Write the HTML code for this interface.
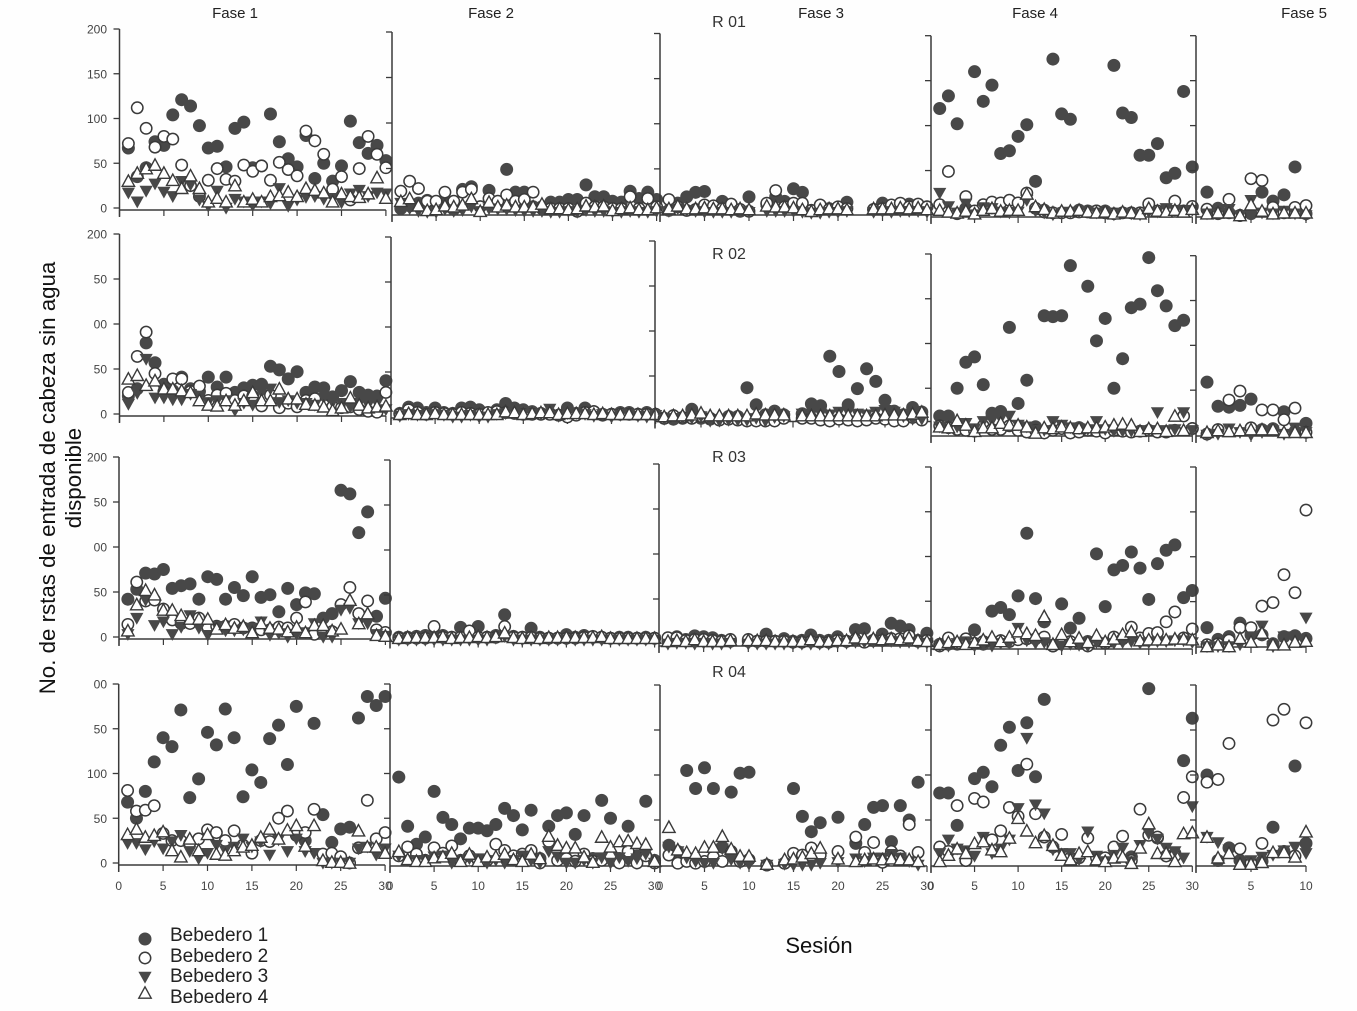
<!DOCTYPE html>
<html lang="es">
<head>
<meta charset="utf-8">
<title>Respuestas de entrada de cabeza por sesión</title>
<style>
html,body{margin:0;padding:0;background:#fff;}
svg{display:block;font-family:"Liberation Sans",sans-serif;}
</style>
</head>
<body>
<svg id="chart" xmlns="http://www.w3.org/2000/svg" width="1357" height="1011" viewBox="0 0 1357 1011">
  <rect x="0" y="0" width="1357" height="1011" fill="#fefefe"/>
  <g id="plots"></g>
  <g font-size="15" fill="#222" text-anchor="middle">
    <text x="235" y="18">Fase 1</text>
    <text x="491" y="18">Fase 2</text>
    <text x="821" y="18">Fase 3</text>
    <text x="1035" y="18">Fase 4</text>
    <text x="1304" y="18">Fase 5</text>
  </g>
  <g font-size="16" fill="#333" text-anchor="middle">
    <text x="729" y="27">R 01</text>
    <text x="729" y="259">R 02</text>
    <text x="729" y="462">R 03</text>
    <text x="729" y="677">R 04</text>
  </g>
  <text transform="translate(55,478) rotate(-90)" font-size="22.3" fill="#111" text-anchor="middle">No. de rstas de entrada de cabeza sin agua</text>
  <text transform="translate(81,478) rotate(-90)" font-size="22.3" fill="#111" text-anchor="middle">disponible</text>
  <text x="819" y="953" font-size="22" fill="#111" text-anchor="middle">Sesión</text>
  <g id="legend" font-size="19" fill="#222">
    <text x="170" y="941">Bebedero 1</text>
    <text x="170" y="962">Bebedero 2</text>
    <text x="170" y="982">Bebedero 3</text>
    <text x="170" y="1003">Bebedero 4</text>
  </g>
</svg>
<script>
/* Y axis */
const yTickValues = [0, 50, 100, 150, 200];
const yTickLabelsR1 = ["0", "50", "100", "150", "200"];
const yTickLabelsR2 = ["0", "50", "00", "50", "200"];
const yTickLabelsR3 = ["0", "50", "00", "50", "200"];
const yTickLabelsR4 = ["0", "50", "100", "50", "00"];
/* X axis */
const xTicksLong = [0, 5, 10, 15, 20, 25, 30];
const xTicksShort = [0, 5, 10];
const xLabelsLong = ["0", "5", "10", "15", "20", "25", "30"];
const xLabelsShort = ["", "5", "10"];

/* R 01 */
const r1f1b1 = [67,35,45,74,70,104,121,114,92,67,69,46,89,96,45,47,105,74,55,46,81,33,50,30,47,97,73,61,70,53];
const r1f1b2 = [72,112,89,68,80,77,48,25,13,31,44,32,30,48,41,47,31,51,43,36,86,75,60,21,35,9,44,80,60,45];
const r1f1b3 = [17,7,19,27,18,13,30,26,9,2,19,0,10,7,3,7,5,22,2,9,12,13,10,11,6,16,20,13,17,16];
const r1f1b4 = [30,39,44,48,39,31,22,36,22,7,11,7,25,7,10,7,13,14,18,13,22,20,17,7,16,13,12,16,34,11];
const r1f2b1 = [6,9,12,15,8,12,5,27,30,8,26,10,49,24,24,8,8,13,13,16,16,32,19,19,14,13,25,17,24,16];
const r1f2b2 = [25,36,28,14,14,24,14,24,27,8,17,14,21,14,16,24,6,6,6,6,3,12,8,8,6,6,19,6,17,8];
const r1f2b3 = [12,6,3,2,2,5,3,4,8,3,6,5,5,4,3,3,3,2,2,3,2,4,3,3,2,2,3,2,2,3];
const r1f2b4 = [14,17,9,4,5,9,8,10,17,3,13,8,10,8,8,8,11,6,6,5,6,9,8,9,4,6,7,5,5,7];
const r1f3b1 = [4,12,19,24,25,6,14,5,3,19,null,11,19,14,28,24,4,6,6,7,13,null,null,5,12,5,8,11,10,8];
const r1f3b2 = [16,8,4,5,10,9,6,11,5,3,null,12,26,8,12,12,4,10,5,8,6,null,null,5,6,10,12,8,11,8];
const r1f3b3 = [3,6,4,3,2,2,2,2,3,2,null,3,3,3,3,2,1,1,2,2,3,null,null,2,3,2,3,3,3,2];
const r1f3b4 = [6,9,6,6,7,6,6,5,6,5,null,9,8,8,7,5,3,5,6,6,5,null,null,6,6,6,7,6,7,5];
const r1f4b1 = [119,133,102,8,160,127,145,69,72,88,101,38,6,174,113,107,6,5,5,5,167,114,109,67,67,80,42,47,138,54];
const r1f4b2 = [12,49,2,21,5,12,15,14,17,14,25,8,4,3,3,3,4,4,5,3,2,3,3,3,13,5,5,16,5,10];
const r1f4b3 = [25,10,3,13,1,9,8,4,3,4,17,5,3,1,3,4,4,5,3,3,1,3,2,1,4,4,8,6,5,6];
const r1f4b4 = [6,4,3,5,2,6,8,5,6,6,24,10,7,3,5,5,6,4,3,4,2,4,3,2,8,5,4,6,4,7];
const r1f5b1 = [26,8,3,0,2,26,16,23,54,2];
const r1f5b2 = [7,2,18,0,41,39,9,3,9,11];
const r1f5b3 = [2,2,7,0,17,3,2,5,2,0];
const r1f5b4 = [2,3,3,0,12,5,2,3,3,3];

/* R 02 */
const r2f1b1 = [20,28,79,57,33,26,41,28,25,41,30,41,24,29,32,33,53,49,39,47,24,30,29,19,26,36,24,21,20,37];
const r2f1b2 = [24,64,91,45,25,39,39,25,31,15,21,23,15,20,20,9,21,7,12,8,15,17,10,8,7,8,5,3,2,24];
const r2f1b3 = [11,23,61,18,18,16,16,22,20,13,15,15,4,12,10,24,28,13,15,12,12,10,18,13,12,8,12,10,12,5];
const r2f1b4 = [39,43,32,37,28,28,26,24,15,10,9,15,10,15,24,15,15,28,17,17,11,10,8,4,7,18,10,7,8,9];
const r2f2b1 = [4,11,10,5,10,5,4,10,11,8,4,8,15,10,8,6,4,4,2,10,4,10,6,2,3,5,5,3,5,3];
const r2f2b2 = [3,8,5,3,5,4,3,5,4,3,5,6,5,4,3,3,3,3,2,0,2,5,6,3,3,3,3,3,3,3];
const r2f2b3 = [1,3,2,2,3,2,0,0,2,0,0,3,4,5,3,3,3,9,1,4,4,3,1,3,0,2,3,1,0,2];
const r2f2b4 = [3,4,3,3,4,3,3,3,3,3,3,3,6,5,3,4,5,5,3,4,4,4,3,4,3,3,3,3,3,3];
const r2f3b1 = [3,2,3,13,3,2,2,5,5,37,18,7,11,7,null,8,19,17,72,55,18,36,58,44,23,11,7,15,10,null];
const r2f3b2 = [3,6,4,3,5,3,1,2,1,0,0,0,0,3,null,3,3,1,0,2,1,0,1,3,2,0,0,4,1,null];
const r2f3b3 = [2,3,3,3,5,0,0,1,1,1,3,0,4,5,null,8,8,8,7,10,10,8,7,10,12,10,5,2,2,null];
const r2f3b4 = [5,6,6,7,9,6,6,6,6,6,8,7,7,7,null,6,6,6,6,6,6,6,6,6,7,7,7,8,10,null];
const r2f4b1 = [19,19,50,79,85,54,22,24,118,33,59,7,131,130,131,187,6,164,103,128,50,83,140,144,196,159,142,120,126,5];
const r2f4b2 = [8,6,4,3,2,8,4,4,8,3,1,3,0,3,5,0,1,3,2,0,3,2,1,2,3,1,1,3,19,5];
const r2f4b3 = [7,5,7,11,5,13,14,16,19,9,7,3,3,13,9,6,5,4,13,4,2,2,2,2,3,23,3,4,23,3];
const r2f4b4 = [7,6,14,9,2,6,6,11,9,9,7,0,6,5,7,6,5,6,6,7,9,10,9,2,5,5,2,19,3,null];
const r2f5b1 = [59,32,31,33,40,6,7,26,4,13];
const r2f5b2 = [1,6,39,49,8,28,28,17,30,3];
const r2f5b3 = [0,1,7,3,0,3,5,1,8,3];
const r2f5b4 = [3,5,4,5,6,6,6,3,3,3];

/* R 03 */
const r3f1b1 = [42,53,71,70,75,54,57,59,42,67,64,42,55,46,67,44,47,28,54,36,49,48,21,26,163,159,116,139,23,43];
const r3f1b2 = [14,61,40,41,31,19,15,15,21,11,12,12,14,10,10,8,8,11,10,21,39,3,5,6,36,55,26,40,8,5];
const r3f1b3 = [3,21,41,13,17,3,11,24,10,2,12,7,7,8,10,17,2,4,0,3,5,15,0,0,30,32,15,15,3,1];
const r3f1b4 = [7,36,52,47,30,30,24,20,20,20,9,14,10,12,5,15,10,9,6,11,5,13,13,7,9,41,15,26,2,1];
const r3f2b1 = [3,3,4,5,4,5,3,14,8,15,3,5,28,4,3,13,3,2,2,6,3,5,3,3,2,3,3,2,3,2];
const r3f2b2 = [2,2,2,2,15,3,3,3,10,3,3,3,15,3,3,3,2,2,2,2,2,3,4,3,2,2,2,2,2,2];
const r3f2b3 = [0,0,0,0,0,0,0,0,0,0,0,2,4,0,0,0,0,0,0,0,0,0,0,0,0,0,0,0,0,0];
const r3f2b4 = [2,3,3,3,3,4,2,3,3,4,3,4,8,3,2,3,2,3,3,3,3,3,3,4,2,2,2,2,2,2];
const r3f3b1 = [3,8,5,9,8,7,4,3,null,3,3,11,3,6,3,4,10,4,4,8,3,16,17,4,11,23,20,16,4,12];
const r3f3b2 = [7,7,4,5,5,4,3,5,null,5,3,3,3,3,2,2,3,2,2,4,3,5,2,4,4,6,6,9,3,4];
const r3f3b3 = [0,1,1,0,1,0,0,1,null,0,0,0,0,0,0,0,0,0,0,1,1,2,2,2,2,3,2,2,1,1];
const r3f3b4 = [3,4,3,5,3,3,3,4,null,4,4,4,3,3,3,3,5,3,3,4,4,7,6,6,5,6,5,7,4,3];
const r3f4b1 = [2,2,2,6,18,2,39,43,35,56,126,53,27,0,47,20,31,5,103,44,85,90,105,87,52,92,107,113,54,62];
const r3f4b2 = [0,9,3,8,3,5,5,6,5,7,8,8,10,0,6,5,3,0,6,3,10,8,21,9,14,15,27,38,9,19];
const r3f4b3 = [0,0,3,5,0,2,0,3,3,20,6,3,4,2,0,2,1,0,4,2,3,4,5,3,4,5,5,6,6,4];
const r3f4b4 = [2,4,5,2,4,7,10,5,10,16,14,12,33,2,13,5,9,4,12,5,8,13,16,6,7,7,7,8,8,7];
const r3f5b1 = [21,8,11,26,13,13,3,11,12,9];
const r3f5b2 = [2,3,7,21,21,45,49,80,60,152];
const r3f5b3 = [0,0,0,2,11,23,0,11,9,32];
const r3f5b4 = [0,2,0,9,5,15,2,2,5,6];

/* R 04 */
const r4f1b1 = [68,50,80,113,140,130,171,73,94,146,132,172,140,74,104,90,139,154,110,175,25,156,54,23,38,40,162,186,176,186];
const r4f1b2 = [81,58,59,64,33,25,25,22,27,37,34,25,36,20,11,25,24,50,58,31,34,60,10,11,7,0,17,70,27,34];
const r4f1b3 = [22,22,15,24,16,24,31,13,5,11,20,14,18,27,18,24,9,26,13,27,13,11,0,0,0,0,16,18,9,16];
const r4f1b4 = [32,38,29,31,35,14,7,27,14,32,10,9,14,18,20,29,38,27,37,42,19,42,3,1,1,0,36,18,18,11];
const r4f2b1 = [96,41,21,29,80,51,43,27,39,39,36,43,61,53,37,59,5,41,53,56,32,53,5,70,50,5,41,8,69,3];
const r4f2b2 = [8,18,10,3,17,11,19,3,8,3,3,21,14,8,10,14,0,24,3,5,2,10,2,3,9,0,13,0,8,0];
const r4f2b3 = [8,3,3,3,7,8,0,3,5,5,0,3,0,3,8,3,0,13,7,0,0,3,0,6,0,6,2,5,10,0];
const r4f2b4 = [13,4,2,2,6,7,11,2,10,2,7,7,10,4,2,10,5,30,20,17,17,7,1,29,18,24,25,22,21,2];
const r4f3b1 = [22,15,105,85,108,85,20,81,102,103,null,0,null,2,85,54,37,47,null,53,null,24,45,64,66,26,66,50,92,null];
const r4f3b2 = [11,2,4,2,4,9,4,15,4,6,null,0,null,2,13,11,19,11,null,15,null,31,14,25,3,15,10,45,14,null];
const r4f3b3 = [20,15,8,4,2,2,18,6,2,1,null,0,null,1,0,0,0,2,null,3,null,7,4,8,8,12,8,4,0,null];
const r4f3b4 = [42,17,14,13,20,20,32,18,10,10,null,1,null,6,7,9,13,19,null,7,null,4,6,7,6,7,6,6,4,null];
const r4f4b1 = [80,80,44,5,96,103,87,133,153,105,158,98,184,null,null,null,null,null,null,null,null,null,9,null,196,30,null,13,116,163];
const r4f4b2 = [20,15,66,5,74,70,28,38,64,54,112,57,31,20,34,8,8,30,8,8,20,32,5,62,33,31,10,10,75,98];
const r4f4b3 = [13,28,18,16,10,31,13,18,28,63,141,67,57,17,13,13,6,37,10,4,11,19,4,22,35,29,19,15,8,65];
const r4f4b4 = [4,11,18,13,24,26,17,15,30,52,38,25,33,22,11,6,13,15,6,4,8,9,2,19,46,13,13,4,35,36];
const r4f5b1 = [100,5,19,5,2,4,42,15,110,24];
const r4f5b2 = [92,95,135,18,2,24,161,173,10,158];
const r4f5b3 = [31,25,17,3,5,9,11,16,20,13];
const r4f5b4 = [31,8,13,1,1,3,14,14,9,37];

const seriesNames = ["bebedero-1", "bebedero-2", "bebedero-3", "bebedero-4"];

const svgNS = "http://www.w3.org/2000/svg";
const INK = "#3a3a3a";
const FILL = "#484848";

function make(tag, attrs, parent) {
  const el = document.createElementNS(svgNS, tag);
  for (const k in attrs) el.setAttribute(k, attrs[k]);
  parent.appendChild(el);
  return el;
}

/* Marker renderers: each centred on cx,cy */
function drawMarker(kind, cx, cy, parent) {
  let el;
  if (kind === 0) {
    el = make("circle", {cx: cx, cy: cy, r: 6.5, fill: FILL, stroke: "none"}, parent);
  } else if (kind === 1) {
    el = make("circle", {cx: cx, cy: cy, r: 5.7, fill: "#fff", stroke: INK, "stroke-width": 1.5}, parent);
  } else if (kind === 2) {
    const pts = [cx - 6.6, cy - 5.2, cx + 6.6, cy - 5.2, cx, cy + 6.6].join(",");
    el = make("polygon", {points: pts, fill: FILL, stroke: "none"}, parent);
  } else {
    const pts = [cx - 6.2, cy + 5.2, cx + 6.2, cy + 5.2, cx, cy - 6.2].join(",");
    el = make("polygon", {points: pts, fill: "#fff", stroke: INK, "stroke-width": 1.4}, parent);
  }
  return el;
}

function sx(p, session) { return p.x0 + session * p.xs; }
function sy(p, value) { return p.y0 - value * (p.y0 - p.yTop) / 200; }

const panels = [
  {r:1,f:1,x0:119.5,xs:8.88,yTop:29,y0:208,line:210,yLabels:yTickLabelsR1,series:[r1f1b1,r1f1b2,r1f1b3,r1f1b4]},
  {r:1,f:2,x0:392,xs:8.82,yTop:32,y0:214,line:215,series:[r1f2b1,r1f2b2,r1f2b3,r1f2b4]},
  {r:1,f:3,x0:660,xs:8.9,yTop:33.5,y0:214,line:215,series:[r1f3b1,r1f3b2,r1f3b3,r1f3b4]},
  {r:1,f:4,x0:931,xs:8.71,yTop:35.7,y0:215.5,line:217,series:[r1f4b1,r1f4b2,r1f4b3,r1f4b4]},
  {r:1,f:5,x0:1196,xs:11,yTop:35.7,y0:215.5,line:217,series:[r1f5b1,r1f5b2,r1f5b3,r1f5b4]},
  {r:2,f:1,x0:119.5,xs:8.88,yTop:234,y0:414,line:416,yLabels:yTickLabelsR2,series:[r2f1b1,r2f1b2,r2f1b3,r2f1b4]},
  {r:2,f:2,x0:391,xs:8.82,yTop:237,y0:417,line:418,series:[r2f2b1,r2f2b2,r2f2b3,r2f2b4]},
  {r:2,f:3,x0:655,xs:9.2,yTop:241,y0:421,line:421.5,series:[r2f3b1,r2f3b2,r2f3b3,r2f3b4]},
  {r:2,f:4,x0:931,xs:8.71,yTop:254,y0:433,line:436,series:[r2f4b1,r2f4b2,r2f4b3,r2f4b4]},
  {r:2,f:5,x0:1196,xs:11,yTop:255.7,y0:435,line:436,series:[r2f5b1,r2f5b2,r2f5b3,r2f5b4]},
  {r:3,f:1,x0:119,xs:8.88,yTop:457,y0:637,line:639,yLabels:yTickLabelsR3,series:[r3f1b1,r3f1b2,r3f1b3,r3f1b4]},
  {r:3,f:2,x0:390,xs:8.82,yTop:460,y0:640,line:641.5,series:[r3f2b1,r3f2b2,r3f2b3,r3f2b4]},
  {r:3,f:3,x0:659,xs:8.93,yTop:464,y0:644,line:646,series:[r3f3b1,r3f3b2,r3f3b3,r3f3b4]},
  {r:3,f:4,x0:931,xs:8.71,yTop:467,y0:646,line:649,series:[r3f4b1,r3f4b2,r3f4b3,r3f4b4]},
  {r:3,f:5,x0:1196,xs:11,yTop:467,y0:646.5,line:647,series:[r3f5b1,r3f5b2,r3f5b3,r3f5b4]},
  {r:4,f:1,x0:118.7,xs:8.88,yTop:684,y0:863,line:865,yLabels:yTickLabelsR4,xLabels:xLabelsLong,series:[r4f1b1,r4f1b2,r4f1b3,r4f1b4]},
  {r:4,f:2,x0:390,xs:8.82,yTop:684,y0:863,line:866,xLabels:xLabelsLong,series:[r4f2b1,r4f2b2,r4f2b3,r4f2b4]},
  {r:4,f:3,x0:660,xs:8.9,yTop:685,y0:865,line:866,xLabels:xLabelsLong,series:[r4f3b1,r4f3b2,r4f3b3,r4f3b4]},
  {r:4,f:4,x0:931,xs:8.71,yTop:685,y0:865,line:866,xLabels:xLabelsLong,series:[r4f4b1,r4f4b2,r4f4b3,r4f4b4]},
  {r:4,f:5,x0:1196,xs:11,yTop:685,y0:865,line:866,xLabels:xLabelsShort,series:[r4f5b1,r4f5b2,r4f5b3,r4f5b4]}
];

const plots = document.getElementById("plots");

panels.forEach(function (p) {
  const g = make("g", {}, plots);
  
  

  const xTicks = p.f === 5 ? xTicksShort : xTicksLong;
  const xMax = xTicks[xTicks.length - 1];

  /* axes */
  const xLine = make("line", {x1: p.x0, x2: sx(p, xMax), y1: p.line, y2: p.line, stroke: INK, "stroke-width": 1.4}, g);
  
  
  const yLine = make("line", {x1: p.x0, x2: p.x0, y1: p.yTop, y2: p.line + 7, stroke: INK, "stroke-width": 1.5}, g);
  
  

  yTickValues.forEach(function (v, i) {
    if (v === 0 && p.f !== 1) return;
    const y = sy(p, v);
    const t = make("line", {x1: p.x0 - 6, x2: p.x0, y1: y, y2: y, stroke: INK, "stroke-width": 1.3}, g);
    
    
    if (p.yLabels) {
      const lab = make("text", {x: 107, y: y + 4.5, "text-anchor": "end", "font-size": 12, fill: "#444"}, g);
      lab.textContent = p.yLabels[i];
      
      
    }
  });

  xTicks.forEach(function (v, i) {
    const x = sx(p, v);
    const t = make("line", {x1: x, x2: x, y1: p.line, y2: p.line + 6, stroke: INK, "stroke-width": 1.2}, g);
    
    
    if (p.xLabels && p.xLabels[i]) {
      const lab = make("text", {x: x, y: 890, "text-anchor": "middle", "font-size": 12, fill: "#444"}, g);
      lab.textContent = p.xLabels[i];
      
      
    }
  });

  /* series: drawn in order so open markers sit above filled ones */
  p.series.forEach(function (values, kind) {
    const sg = make("g", {}, g);
    
    
    values.forEach(function (v, i) {
      if (v === null) return;
      const m = drawMarker(kind, sx(p, i + 1), sy(p, v), sg);
      
      
    });
  });
});

/* legend markers */
const legendRows = [939, 958, 977, 993];
const legend = document.getElementById("legend");
legendRows.forEach(function (y, kind) {
  const m = drawMarker(kind, 145, y, legend);
  
  
});
</script>
</body>
</html>
